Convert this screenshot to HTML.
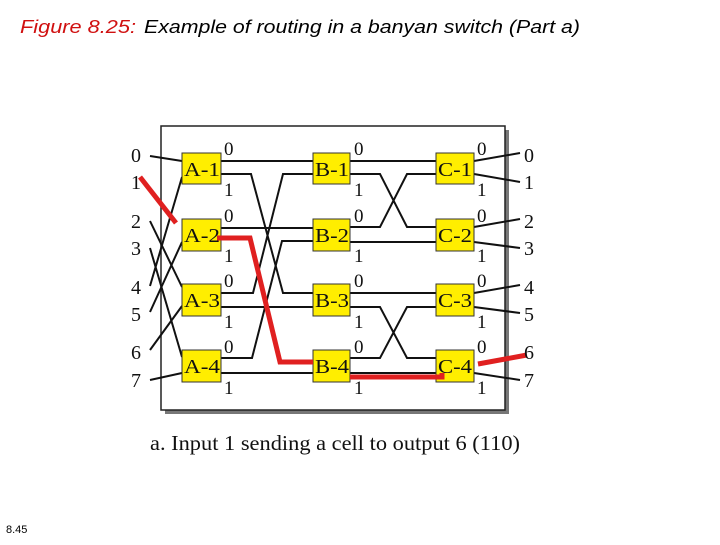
<!DOCTYPE html>
<html><head><style>
body{margin:0;width:720px;height:540px;background:#fff;overflow:hidden}
</style></head><body>
<svg width="720" height="540" xmlns="http://www.w3.org/2000/svg">
<text x="20" y="33" font-family="Liberation Sans, sans-serif" font-size="18" font-style="italic" fill="#d01010" textLength="116" lengthAdjust="spacingAndGlyphs">Figure 8.25:</text>
<text x="144" y="33" font-family="Liberation Sans, sans-serif" font-size="18" font-style="italic" fill="#000" textLength="436" lengthAdjust="spacingAndGlyphs">Example of routing in a banyan switch (Part a)</text>
<text x="6" y="533" font-family="Liberation Sans, sans-serif" font-size="11" fill="#000">8.45</text>
<rect x="165" y="130" width="344" height="284" fill="#777"/>
<rect x="161" y="126" width="344" height="284" fill="#fff" stroke="#222" stroke-width="1.5"/>
<g stroke="#111" stroke-width="2" fill="none">
<line x1="150" y1="156" x2="182" y2="161"/>
<line x1="150" y1="221" x2="182" y2="287"/>
<line x1="150" y1="248" x2="182" y2="357"/>
<line x1="150" y1="286" x2="182" y2="177"/>
<line x1="150" y1="312" x2="182" y2="242"/>
<line x1="150" y1="350" x2="182" y2="306"/>
<line x1="150" y1="380" x2="182" y2="373"/>
<line x1="221" y1="161" x2="313" y2="161"/>
<polyline points="221,174 251,174 283,293 313,293"/>
<line x1="221" y1="228" x2="313" y2="228"/>
<polyline points="221,293 253,293 283,174 313,174"/>
<line x1="221" y1="307" x2="313" y2="307"/>
<polyline points="221,358 252,358 282,241 313,241"/>
<line x1="221" y1="373" x2="313" y2="373"/>
<line x1="350" y1="161" x2="436" y2="161"/>
<polyline points="350,174 380,174 407,227 436,227"/>
<polyline points="350,227 380,227 407,174 436,174"/>
<line x1="350" y1="242" x2="436" y2="242"/>
<line x1="350" y1="293" x2="436" y2="293"/>
<polyline points="350,307 380,307 407,358 436,358"/>
<polyline points="350,358 380,358 407,307 436,307"/>
<line x1="350" y1="373" x2="436" y2="373"/>
<line x1="474" y1="161" x2="520" y2="153"/>
<line x1="474" y1="174" x2="520" y2="182"/>
<line x1="474" y1="227" x2="520" y2="219"/>
<line x1="474" y1="242" x2="520" y2="248"/>
<line x1="474" y1="293" x2="520" y2="285"/>
<line x1="474" y1="307" x2="520" y2="313"/>
<line x1="474" y1="373" x2="520" y2="380"/>
</g>
<g fill="#ffee00" stroke="#333" stroke-width="1">
<rect x="182" y="153" width="39" height="31"/><rect x="182" y="219" width="39" height="32"/><rect x="182" y="284" width="39" height="32"/><rect x="182" y="350" width="39" height="32"/>
<rect x="313" y="153" width="37" height="31"/><rect x="313" y="219" width="37" height="32"/><rect x="313" y="284" width="37" height="32"/><rect x="313" y="350" width="37" height="32"/>
<rect x="436" y="153" width="38" height="31"/><rect x="436" y="219" width="38" height="32"/><rect x="436" y="284" width="38" height="32"/><rect x="436" y="350" width="38" height="32"/>
</g>
<g stroke="#e02020" stroke-width="5" fill="none">
<line x1="140" y1="177" x2="176" y2="223"/>
<polyline points="217,238 250,238 280,362 313,362"/>
<polyline points="350,377 442,377 442,373"/>
<line x1="478" y1="364" x2="527" y2="355"/>
</g>
<g font-family="Liberation Serif, serif" font-size="20" fill="#111">
<text x="184" y="176" textLength="36" lengthAdjust="spacingAndGlyphs">A-1</text><text x="184" y="242" textLength="36" lengthAdjust="spacingAndGlyphs">A-2</text><text x="184" y="307" textLength="36" lengthAdjust="spacingAndGlyphs">A-3</text><text x="184" y="373" textLength="36" lengthAdjust="spacingAndGlyphs">A-4</text>
<text x="315" y="176" textLength="34" lengthAdjust="spacingAndGlyphs">B-1</text><text x="315" y="242" textLength="34" lengthAdjust="spacingAndGlyphs">B-2</text><text x="315" y="307" textLength="34" lengthAdjust="spacingAndGlyphs">B-3</text><text x="315" y="373" textLength="34" lengthAdjust="spacingAndGlyphs">B-4</text>
<text x="438" y="176" textLength="34" lengthAdjust="spacingAndGlyphs">C-1</text><text x="438" y="242" textLength="34" lengthAdjust="spacingAndGlyphs">C-2</text><text x="438" y="307" textLength="34" lengthAdjust="spacingAndGlyphs">C-3</text><text x="438" y="373" textLength="34" lengthAdjust="spacingAndGlyphs">C-4</text>
</g>
<g font-family="Liberation Serif, serif" font-size="20" fill="#111">
<text x="131" y="162">0</text><text x="131" y="189">1</text><text x="131" y="228">2</text><text x="131" y="255">3</text>
<text x="131" y="294">4</text><text x="131" y="321">5</text><text x="131" y="359">6</text><text x="131" y="387">7</text>
<text x="524" y="162">0</text><text x="524" y="189">1</text><text x="524" y="228">2</text><text x="524" y="255">3</text>
<text x="524" y="294">4</text><text x="524" y="321">5</text><text x="524" y="359">6</text><text x="524" y="387">7</text>
</g>
<g font-family="Liberation Serif, serif" font-size="19" fill="#111">
<text x="224" y="155">0</text><text x="224" y="196">1</text><text x="224" y="222">0</text><text x="224" y="262">1</text>
<text x="224" y="287">0</text><text x="224" y="328">1</text><text x="224" y="353">0</text><text x="224" y="394">1</text>
<text x="354" y="155">0</text><text x="354" y="196">1</text><text x="354" y="222">0</text><text x="354" y="262">1</text>
<text x="354" y="287">0</text><text x="354" y="328">1</text><text x="354" y="353">0</text><text x="354" y="394">1</text>
<text x="477" y="155">0</text><text x="477" y="196">1</text><text x="477" y="222">0</text><text x="477" y="262">1</text>
<text x="477" y="287">0</text><text x="477" y="328">1</text><text x="477" y="353">0</text><text x="477" y="394">1</text>
</g>
<text x="150" y="450" font-family="Liberation Serif, serif" font-size="21" fill="#111" textLength="370" lengthAdjust="spacingAndGlyphs">a. Input 1 sending a cell to output 6 (110)</text>
</svg>
</body></html>
